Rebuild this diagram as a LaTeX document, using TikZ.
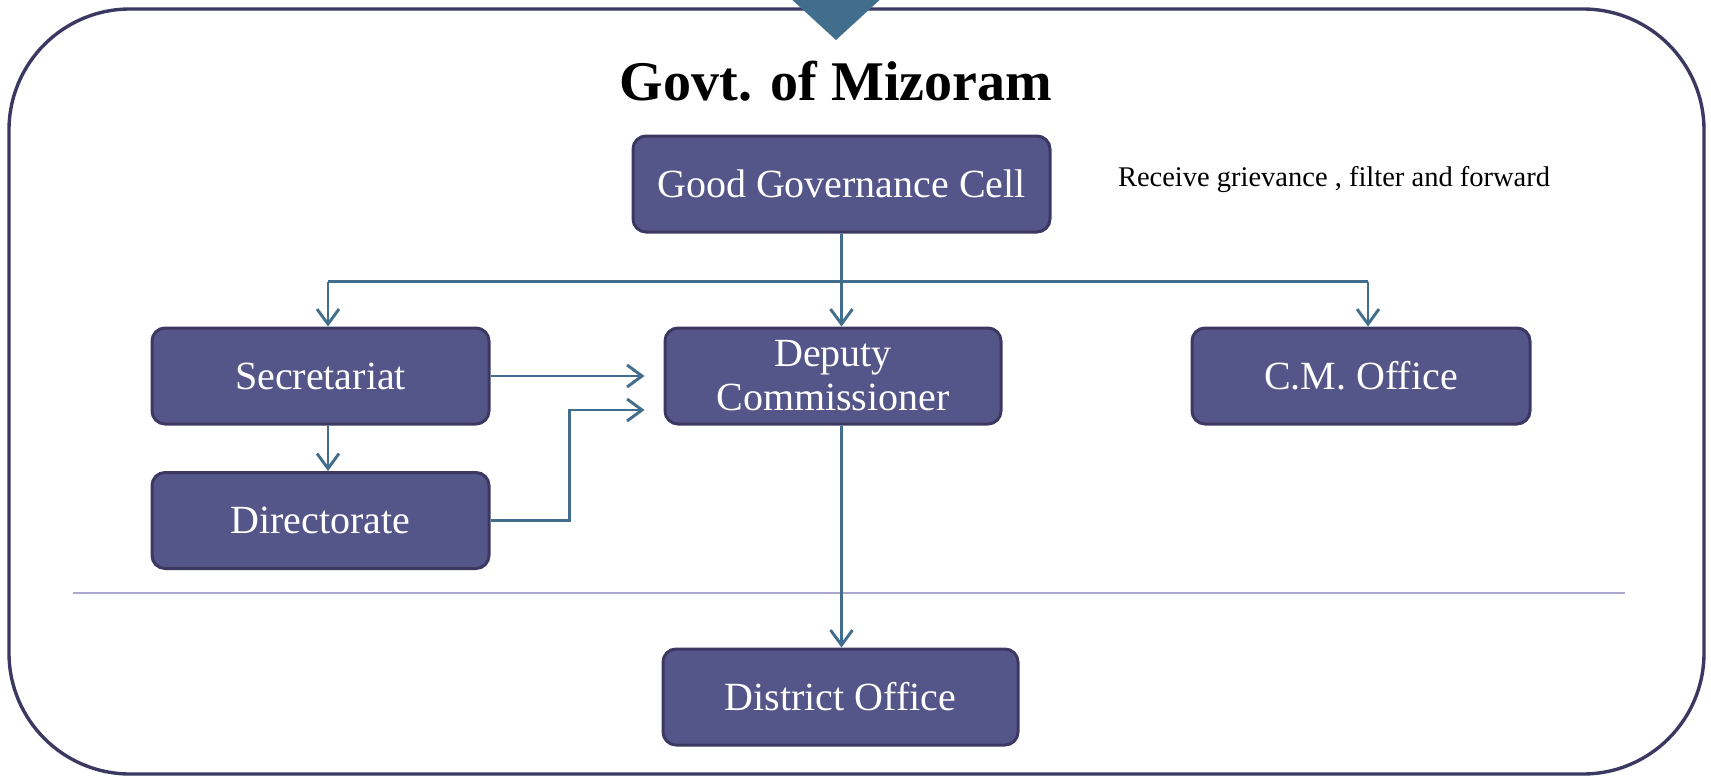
\documentclass[tikz,border=0pt]{standalone}
\usepackage{fontspec}
\setmainfont{Liberation Serif}
\usetikzlibrary{arrows.meta}

\definecolor{boxfill}{RGB}{84,85,137}
\definecolor{boxline}{RGB}{59,57,98}
\definecolor{flowline}{RGB}{64,110,140}
\definecolor{sepline}{RGB}{170,168,204}

\tikzset{
  office/.style={draw=boxline, line width=3pt, fill=boxfill, rounded corners=13pt,
    text=white, inner sep=0pt, minimum height=96pt, align=center,
    font=\fontsize{40}{44}\selectfont},
  flow/.style={draw=flowline, line width=2.9pt,
    -{Straight Barb[length=15pt, width=22pt]}},
  bus/.style={draw=flowline, line width=2.9pt}
}

\begin{document}
\begin{tikzpicture}[x=1pt, y=-1pt]
            \useasboundingbox (0,0) rectangle (1711,776);
            % outer frame and the pointer on top
            \draw[boxline, line width=3.4pt, rounded corners=121pt] (9,9) rectangle (1704,774);
            \fill[flowline] (788,-4) -- (884,-4) -- (836,40) -- cycle;
            \node[font=\fontsize{56}{60}\selectfont\bfseries] (title) at (836,81) {Govt. of Mizoram};
            % offices
            \node[office, minimum width=417pt] (ggc) at (841.5,184) {Good Governance Cell};
            \node[office, minimum width=337pt] (sec) at (320.5,376) {Secretariat};
            \node[office, minimum width=336pt] (dc) at (833,376) {Deputy\\Commissioner};
            \node[office, minimum width=338pt] (cm) at (1361,376) {C.M. Office};
            \node[office, minimum width=337pt] (dir) at (320.5,520.5) {Directorate};
            \node[office, minimum width=355pt] (dist) at (840.5,697) {District Office};
            \node[font=\fontsize{28.5}{30}\selectfont] (note) at (1334,180) {Receive grievance , filter and forward};
            % separator
            \draw[sepline, line width=2.5pt] (73,593) -- (1625,593);
            % connectors
            \coordinate (split) at (840,281.5);
            \coordinate (secin) at ([xshift=7.5pt]sec.north);
            \coordinate (cmin) at ([xshift=7pt]cm.north);
            \draw[bus] (secin |- split) -- (cmin |- split);
            \draw[flow] (ggc.south) -- (ggc.south |- dc.north);
            \draw[flow] (secin |- split) -- (secin);
            \draw[flow] (cmin |- split) -- (cmin);
            \draw[flow] (sec.east) -- ([xshift=-19pt]dc.west);
            \draw[flow] (dir.east) -- ++(79,0) |- ([xshift=-19pt, yshift=-34pt]dc.west);
            \draw[flow] (secin |- sec.south) -- (secin |- dir.north);
            \draw[flow] (ggc.south |- dc.south) -- (ggc.south |- dist.north);
        \end{tikzpicture}
\end{document}
